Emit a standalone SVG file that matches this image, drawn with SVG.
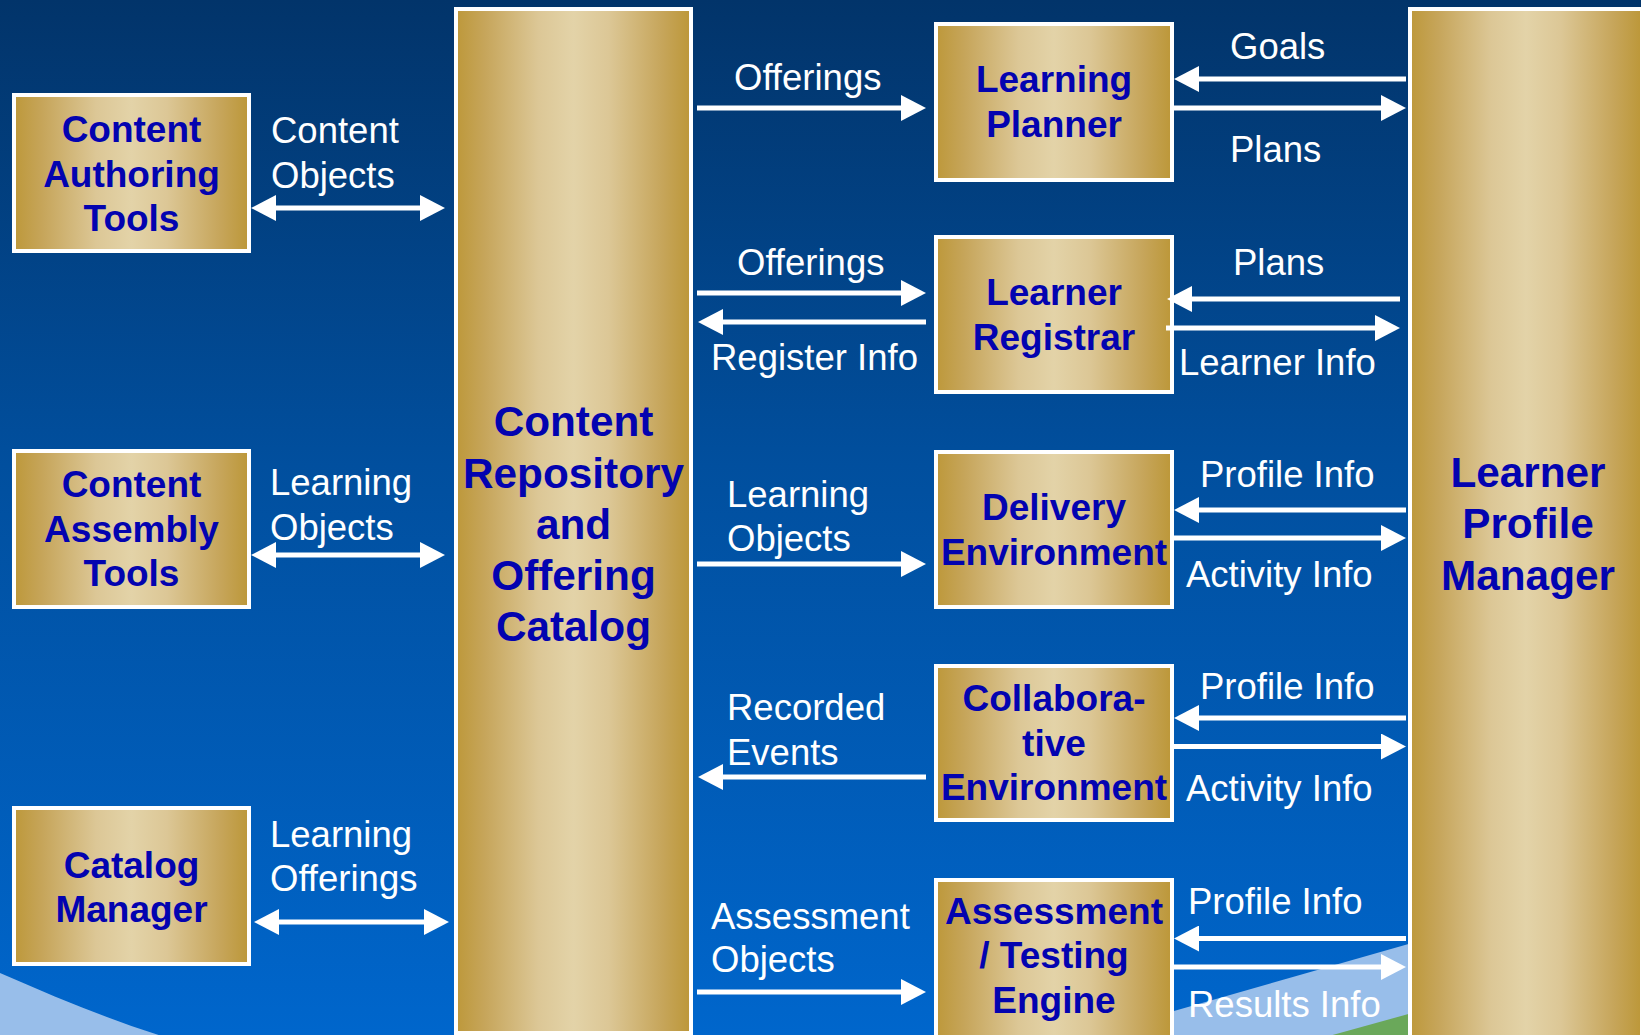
<svg xmlns="http://www.w3.org/2000/svg" width="1641" height="1035" viewBox="0 0 1641 1035">
  <defs>
    <linearGradient id="bg" x1="0" y1="0" x2="0" y2="1">
      <stop offset="0" stop-color="#02346A"/>
      <stop offset="0.45" stop-color="#014F9E"/>
      <stop offset="1" stop-color="#0066CC"/>
    </linearGradient>
    <linearGradient id="gold" x1="0" y1="0" x2="1" y2="0">
      <stop offset="0" stop-color="#BD983A"/>
      <stop offset="0.12" stop-color="#C6A55A"/>
      <stop offset="0.35" stop-color="#DCC796"/>
      <stop offset="0.5" stop-color="#E3D3A8"/>
      <stop offset="0.65" stop-color="#DCC796"/>
      <stop offset="0.88" stop-color="#C6A55A"/>
      <stop offset="1" stop-color="#BC9738"/>
    </linearGradient>
    <marker id="ah" markerUnits="userSpaceOnUse" markerWidth="25" markerHeight="26" viewBox="0 0 25 26" refX="1" refY="13" orient="auto-start-reverse">
      <path d="M0 0 L25 13 L0 26 Z" fill="#FFFFFF"/>
    </marker>
    <style>
      .box { fill: url(#gold); stroke: #FFFFFF; stroke-width: 4; }
      .name { font-family: "Liberation Sans", Arial, sans-serif; font-weight: bold; font-size: 37px; fill: #0303B0; text-anchor: middle; }
      .big { font-size: 42.3px; }
      .flow { fill: none; stroke: #FFFFFF; stroke-width: 5; marker-end: url(#ah); }
      .both { marker-start: url(#ah); }
      .lbl { font-family: "Liberation Sans", Arial, sans-serif; font-size: 36.5px; fill: #FFFFFF; }
    </style>
  </defs>

  <!-- backdrop -->
  <rect x="0" y="0" width="1641" height="1035" fill="url(#bg)"/>
  <path d="M0 973 C55 997 110 1020 165 1037 L0 1037 Z" fill="#98BEEA"/>
  <path d="M1090 1036 L1174 1011 L1412 943 L1412 1036 Z" fill="#98BEEA"/>
  <path d="M1329 1036 L1412 1013 L1412 1036 Z" fill="#6AA85A"/>

  <!-- central repository column -->
  <g id="content-repository">
    <rect class="box" x="456" y="9" width="235" height="1024"/>
    <text class="name big" x="573.5" y="436">Content</text>
    <text class="name big" x="573.5" y="488">Repository</text>
    <text class="name big" x="573.5" y="539">and</text>
    <text class="name big" x="573.5" y="590">Offering</text>
    <text class="name big" x="573.5" y="641">Catalog</text>
  </g>

  <!-- learner profile column -->
  <g id="learner-profile-manager">
    <rect class="box" x="1410" y="9" width="232" height="1030"/>
    <text class="name big" x="1528" y="487">Learner</text>
    <text class="name big" x="1528" y="538">Profile</text>
    <text class="name big" x="1528" y="590">Manager</text>
  </g>

  <!-- left-hand tools -->
  <g id="content-authoring-tools">
    <rect class="box" x="14" y="95" width="235" height="156"/>
    <text class="name" x="131.5" y="142">Content</text>
    <text class="name" x="131.5" y="187">Authoring</text>
    <text class="name" x="131.5" y="231">Tools</text>
  </g>
  <g id="content-assembly-tools">
    <rect class="box" x="14" y="451" width="235" height="156"/>
    <text class="name" x="131.5" y="497">Content</text>
    <text class="name" x="131.5" y="542">Assembly</text>
    <text class="name" x="131.5" y="586">Tools</text>
  </g>
  <g id="catalog-manager">
    <rect class="box" x="14" y="808" width="235" height="156"/>
    <text class="name" x="131.5" y="878">Catalog</text>
    <text class="name" x="131.5" y="922">Manager</text>
  </g>

  <!-- middle services -->
  <g id="learning-planner">
    <rect class="box" x="936" y="24" width="236" height="156"/>
    <text class="name" x="1054" y="92">Learning</text>
    <text class="name" x="1054" y="137">Planner</text>
  </g>
  <g id="learner-registrar">
    <rect class="box" x="936" y="237" width="236" height="155"/>
    <text class="name" x="1054" y="305">Learner</text>
    <text class="name" x="1054" y="350">Registrar</text>
  </g>
  <g id="delivery-environment">
    <rect class="box" x="936" y="452" width="236" height="155"/>
    <text class="name" x="1054" y="520">Delivery</text>
    <text class="name" x="1054" y="565">Environment</text>
  </g>
  <g id="collaborative-environment">
    <rect class="box" x="936" y="666" width="236" height="154"/>
    <text class="name" x="1054" y="711">Collabora-</text>
    <text class="name" x="1054" y="756">tive</text>
    <text class="name" x="1054" y="800">Environment</text>
  </g>
  <g id="assessment-testing-engine">
    <rect class="box" x="936" y="880" width="236" height="160"/>
    <text class="name" x="1054" y="924">Assessment</text>
    <text class="name" x="1054" y="968">/ Testing</text>
    <text class="name" x="1054" y="1013">Engine</text>
  </g>

  <!-- data flows -->
  <g id="connectors">
    <path class="flow both" d="M275 208 H421"/>
    <path class="flow both" d="M275 555 H421"/>
    <path class="flow both" d="M278 922 H425"/>

    <path class="flow" d="M697 108 H902"/>
    <path class="flow" d="M1406 79 H1198"/>
    <path class="flow" d="M1174 108 H1382"/>

    <path class="flow" d="M697 293 H902"/>
    <path class="flow" d="M926 322 H722"/>
    <path class="flow" d="M1400 299 H1191"/>
    <path class="flow" d="M1166 328 H1376"/>

    <path class="flow" d="M697 564 H902"/>
    <path class="flow" d="M1406 510 H1198"/>
    <path class="flow" d="M1174 538 H1382"/>

    <path class="flow" d="M926 777 H722"/>
    <path class="flow" d="M1406 718 H1198"/>
    <path class="flow" d="M1174 746.5 H1382"/>

    <path class="flow" d="M697 992 H902"/>
    <path class="flow" d="M1406 938.5 H1198"/>
    <path class="flow" d="M1174 967 H1382"/>
  </g>

  <!-- flow labels -->
  <g id="flow-labels" class="lbl">
    <text x="271" y="143">Content</text>
    <text x="271" y="188">Objects</text>
    <text x="270" y="495">Learning</text>
    <text x="270" y="540">Objects</text>
    <text x="270" y="847">Learning</text>
    <text x="270" y="891">Offerings</text>

    <text x="734" y="90">Offerings</text>
    <text x="1230" y="59">Goals</text>
    <text x="1230" y="162">Plans</text>

    <text x="737" y="275">Offerings</text>
    <text x="711" y="370">Register Info</text>
    <text x="1233" y="275">Plans</text>
    <text x="1179" y="375">Learner Info</text>

    <text x="727" y="507">Learning</text>
    <text x="727" y="551">Objects</text>
    <text x="1200" y="487">Profile Info</text>
    <text x="1186" y="587">Activity Info</text>

    <text x="727" y="720">Recorded</text>
    <text x="727" y="765">Events</text>
    <text x="1200" y="699">Profile Info</text>
    <text x="1186" y="801">Activity Info</text>

    <text x="711" y="929">Assessment</text>
    <text x="711" y="972">Objects</text>
    <text x="1188" y="914">Profile Info</text>
    <text x="1188" y="1017">Results Info</text>
  </g>
</svg>
